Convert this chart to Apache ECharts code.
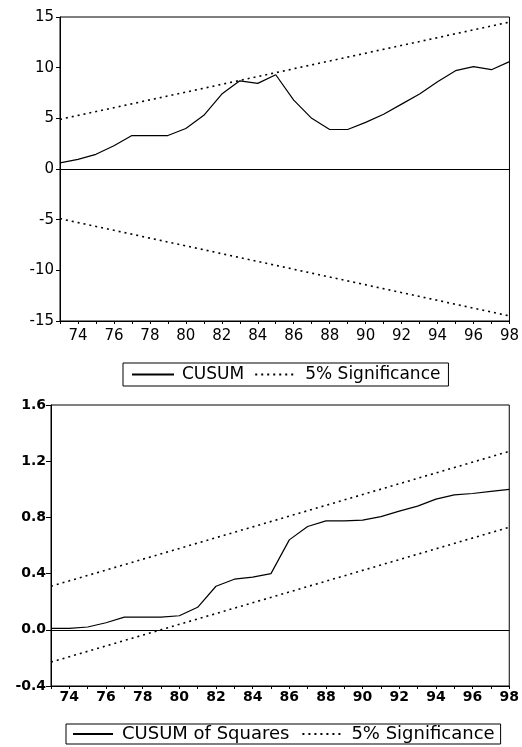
<!DOCTYPE html>
<html>
<head>
<meta charset="utf-8">
<script src="https://cdn.jsdelivr.net/npm/echarts@6/dist/echarts.min.js"></script>
<style>
  html, body { margin: 0; padding: 0; background: #fff; }
  #chart { width: 522px; height: 747px; }
</style>
</head>
<body>
<div id="chart"></div>
<script>
  // yearly observations 1973..1998
  var years = [1973, 1974, 1975, 1976, 1977, 1978, 1979, 1980, 1981, 1982, 1983, 1984, 1985,
               1986, 1987, 1988, 1989, 1990, 1991, 1992, 1993, 1994, 1995, 1996, 1997, 1998];
  var cusum = [0.6, 0.95, 1.45, 2.3, 3.3, 3.3, 3.3, 4.0, 5.3, 7.4, 8.7, 8.45, 9.3,
               6.8, 5.0, 3.9, 3.9, 4.6, 5.4, 6.4, 7.4, 8.6, 9.7, 10.1, 9.8, 10.6];
  var cusumSq = [0.01, 0.01, 0.02, 0.05, 0.09, 0.09, 0.09, 0.10, 0.16, 0.31, 0.36, 0.375, 0.40,
                 0.64, 0.735, 0.775, 0.775, 0.78, 0.805, 0.845, 0.88, 0.93, 0.96, 0.97, 0.985, 1.0];

  // 5% significance bands (straight lines, end points)
  var bandYears = [1973, 1998];
  var cusumUpper = [4.9, 14.5];
  var cusumLower = [-4.9, -14.5];
  var sqUpper = [0.31, 1.27];
  var sqLower = [-0.23, 0.73];

  function pairs(xs, ys) {
    return xs.map(function (x, i) { return [x, ys[i]]; });
  }

  var font = "DejaVu Sans, Arial, sans-serif";
  var dotted = [2, 4];

  function xAxisFor(gridIndex, bold, margin) {
    return {
      type: "value",
      gridIndex: gridIndex,
      min: 1973,
      max: 1998,
      interval: 1,
      axisLine: { onZero: false, lineStyle: { color: "#000", width: 1 } },
      axisTick: { length: 3, lineStyle: { color: "#000" } },
      splitLine: { show: false },
      axisLabel: {
        color: "#000",
        fontFamily: font,
        fontSize: bold ? 14 : 15,
        fontWeight: bold ? "bold" : "normal",
        margin: margin,
        showMinLabel: true,
        showMaxLabel: true,
        hideOverlap: false,
        formatter: function (v) {
          return v % 2 === 0 ? String(v).slice(2) : "";
        }
      }
    };
  }

  function zeroLine() {
    return {
      silent: true,
      symbol: "none",
      label: { show: false },
      lineStyle: { color: "#000", width: 1, type: "solid" },
      data: [{ yAxis: 0 }]
    };
  }

  function lineSeries(name, xi, data, solid, extra) {
    var s = {
      name: name,
      type: "line",
      xAxisIndex: xi,
      yAxisIndex: xi,
      data: data,
      symbol: "none",
      showSymbol: false,
      animation: false,
      lineStyle: solid
        ? { color: "#000", width: 1.2, type: "solid" }
        : { color: "#000", width: 1.6, type: dotted },
      itemStyle: { color: "#000" }
    };
    if (extra) s.markLine = extra;
    return s;
  }

  var chart = echarts.init(document.getElementById("chart"));

  var legendBase = {
    orient: "horizontal",
    borderColor: "#000",
    borderWidth: 1,
    itemHeight: 10,
    selectedMode: false,
    itemStyle: { opacity: 0 },
    textStyle: { color: "#000", fontFamily: font, fontSize: 17, padding: [0, 0, 0, 3] }
  };

  var option = {
    backgroundColor: "#fff",
    animation: false,
    grid: [
      { left: 60, right: 6, top: 17, height: 304, show: true, borderColor: "#000", borderWidth: 1, backgroundColor: "transparent" },
      { left: 51, right: 7, top: 405, height: 281, show: true, borderColor: "#000", borderWidth: 1, backgroundColor: "transparent" }
    ],
    xAxis: [xAxisFor(0, false, 8), xAxisFor(1, true, 4)],
    yAxis: [
      {
        type: "value",
        gridIndex: 0,
        min: -15,
        max: 15,
        interval: 5,
        axisLine: { show: true, lineStyle: { color: "#000" } },
        axisTick: { show: true, length: 4, lineStyle: { color: "#000" } },
        splitLine: { show: false },
        axisLabel: { color: "#000", fontFamily: font, fontSize: 15, margin: 6 }
      },
      {
        type: "value",
        gridIndex: 1,
        min: -0.4,
        max: 1.6,
        interval: 0.4,
        axisLine: { show: true, lineStyle: { color: "#000" } },
        axisTick: { show: true, length: 5, lineStyle: { color: "#000" } },
        splitLine: { show: false },
        axisLabel: {
          color: "#000", fontFamily: font, fontSize: 14, fontWeight: "bold", margin: 5,
          formatter: function (v) { return v.toFixed(1); }
        }
      }
    ],
    legend: [
      Object.assign({}, legendBase, {
        left: 123, top: 363, itemWidth: 42, itemGap: 10,
        padding: [3, 8, 3, 8],
        data: ["CUSUM", "5% Significance"]
      }),
      Object.assign({}, legendBase, {
        left: 66, top: 724, itemWidth: 40, itemGap: 12,
        padding: [1, 6, 1, 6],
        textStyle: { color: "#000", fontFamily: font, fontSize: 18, padding: [0, 0, 0, 4] },
        data: ["CUSUM of Squares", "5% Significance"]
      })
    ],
    series: [
      lineSeries("CUSUM", 0, pairs(years, cusum), true, zeroLine()),
      lineSeries("5% Significance", 0, pairs(bandYears, cusumUpper), false),
      lineSeries("5% Significance", 0, pairs(bandYears, cusumLower), false),
      lineSeries("CUSUM of Squares", 1, pairs(years, cusumSq), true, zeroLine()),
      lineSeries("5% Significance", 1, pairs(bandYears, sqUpper), false),
      lineSeries("5% Significance", 1, pairs(bandYears, sqLower), false)
    ]
  };

  chart.setOption(option);
</script>
</body>
</html>
